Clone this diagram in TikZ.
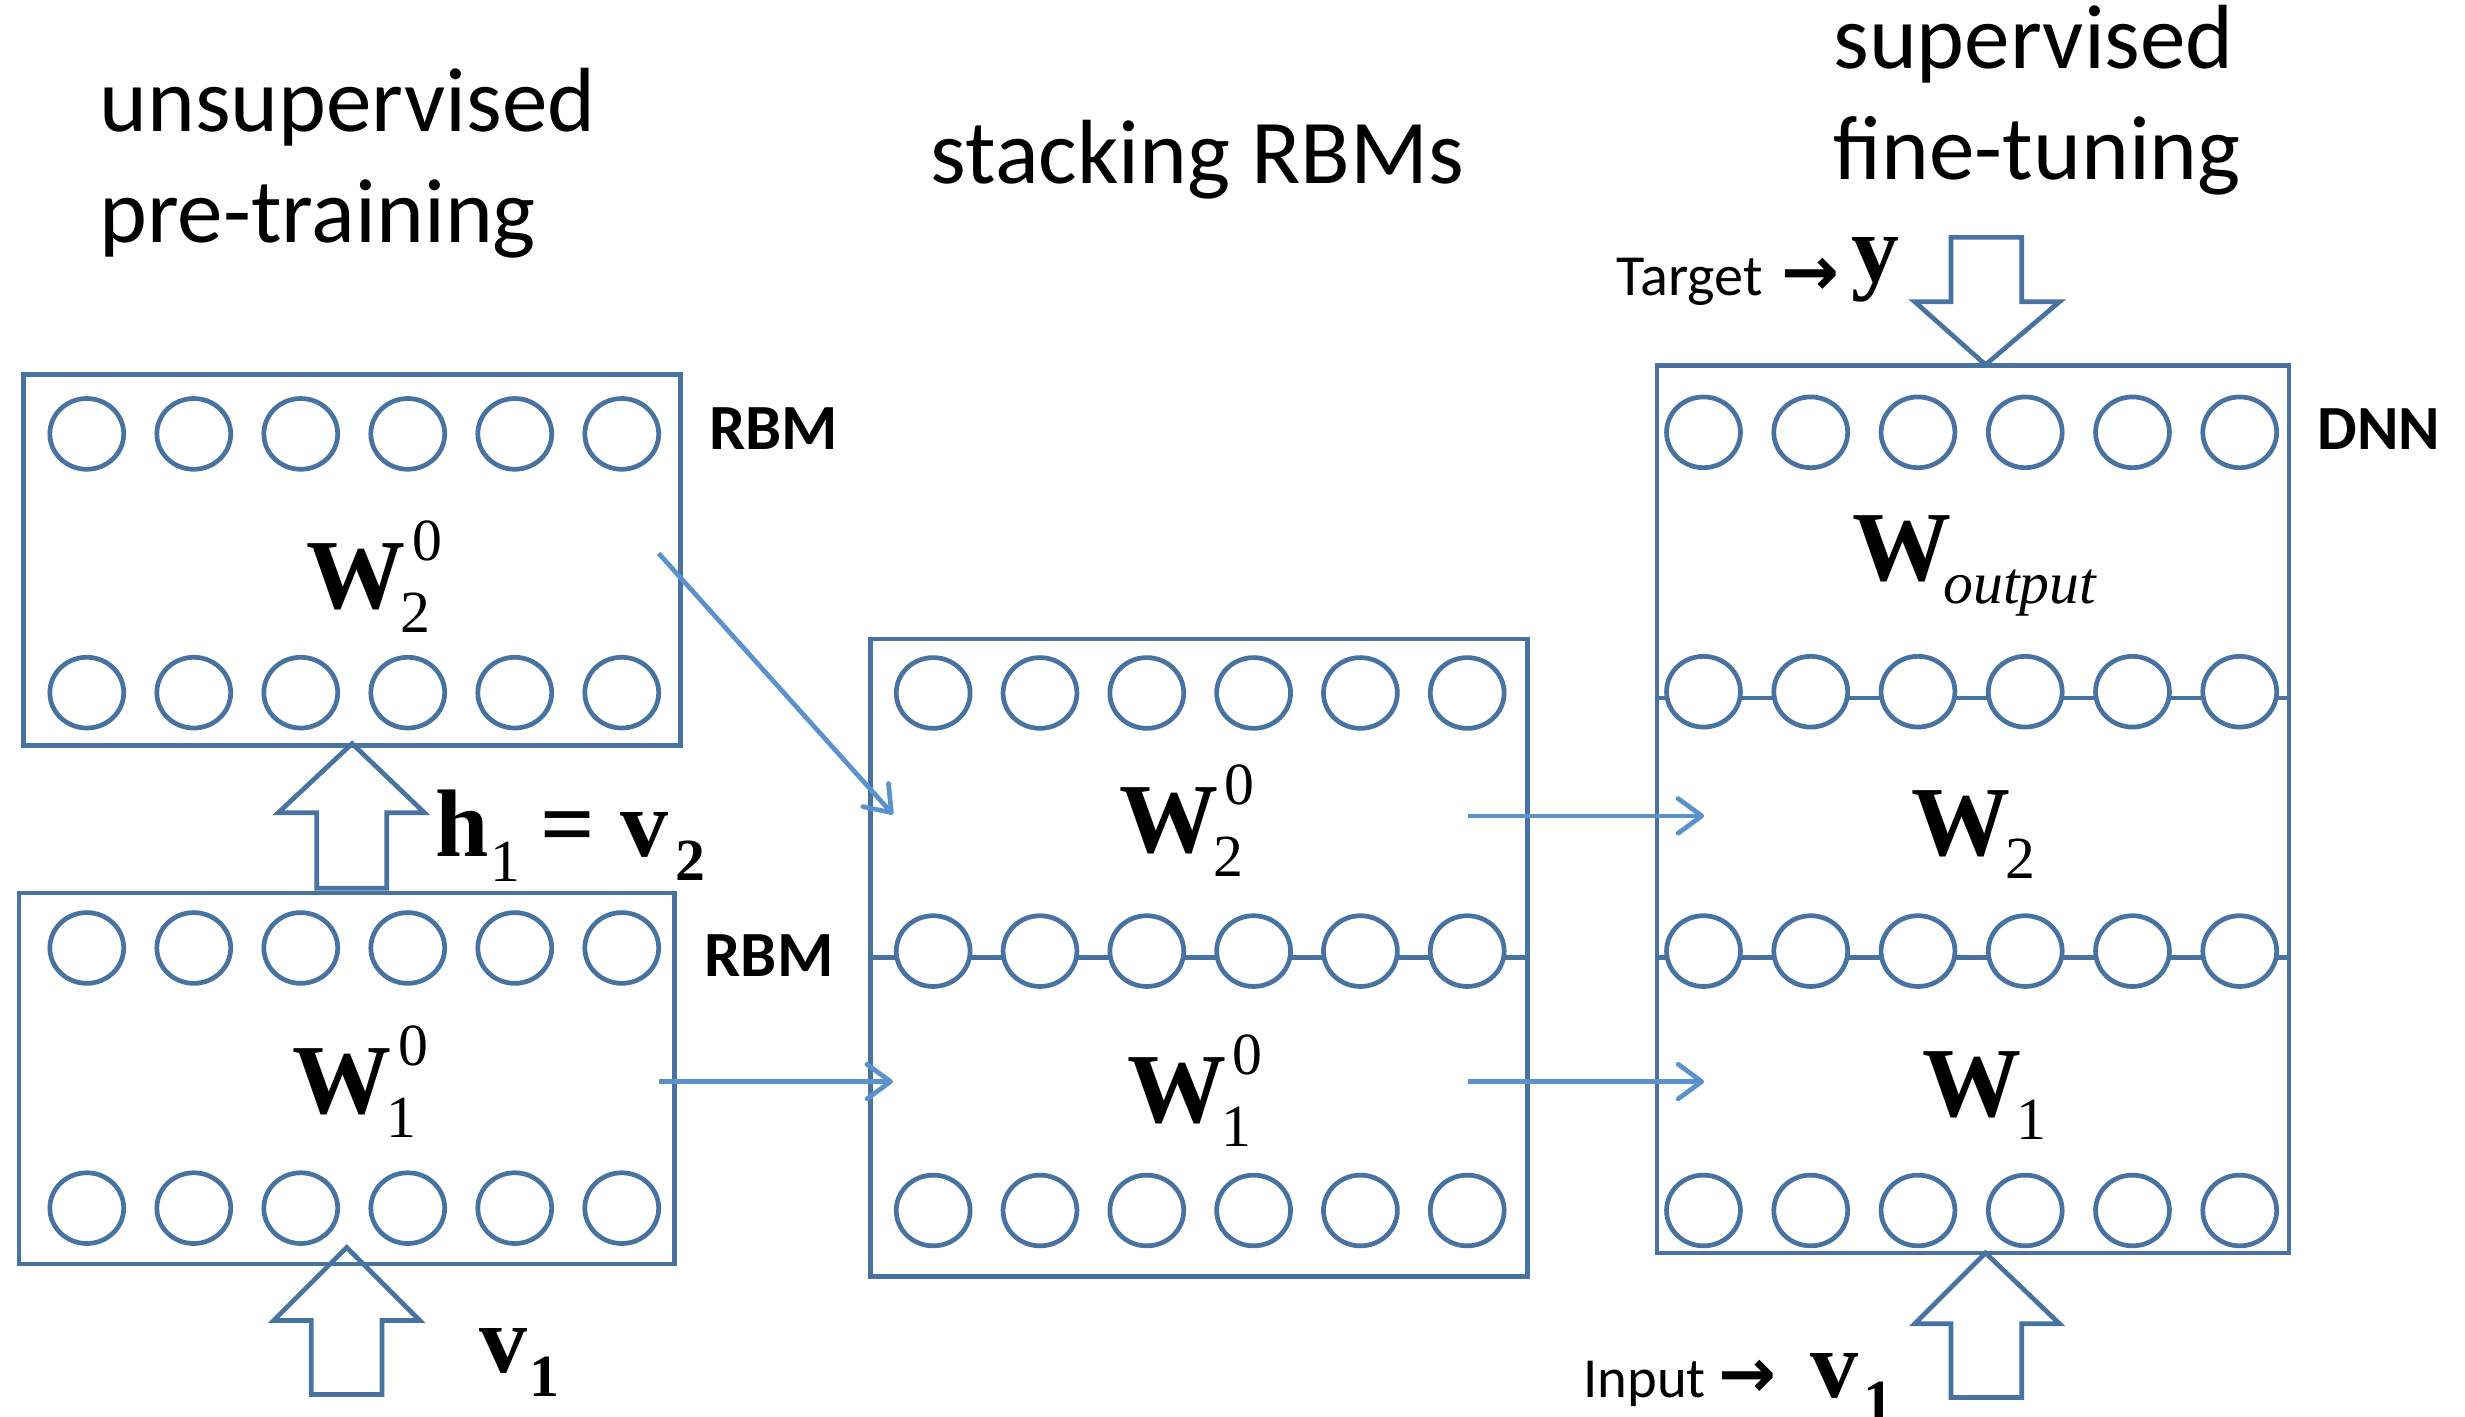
\documentclass[tikz,border=0pt]{standalone}
\usepackage{fontspec}
\setmainfont{Carlito}
\newfontfamily\serifTNR{Liberation Serif}
\newfontfamily\arrowfont{DejaVu Sans}
\usetikzlibrary{arrows.meta,shapes.geometric}
\definecolor{boxblue}{RGB}{72,115,160}
\definecolor{arrblue}{RGB}{92,146,204}
\newcommand{\WBig}{\serifTNR\bfseries\fontsize{63pt}{63pt}\selectfont}
\newcommand{\BigB}{\serifTNR\bfseries\fontsize{61pt}{61pt}\selectfont}
\newcommand{\SubR}{\serifTNR\mdseries\fontsize{38pt}{38pt}\selectfont}
\newcommand{\SubB}{\serifTNR\bfseries\fontsize{38pt}{38pt}\selectfont}
\newcommand{\Wsupsub}[2]{{\WBig W}\rlap{\kern4pt\raisebox{30.5pt}{\SubR #1}}\kern-3.5pt\raisebox{-15.5pt}{\SubR #2}}
\newcommand{\Wsubonly}[1]{{\WBig W}\kern-3.5pt\raisebox{-15pt}{\SubR #1}}
\begin{document}
\begin{tikzpicture}[x=1pt,y=-1pt,
  neuron/.style={ellipse, draw=boxblue, line width=3pt, fill=white, minimum width=47pt, minimum height=45pt, inner sep=0pt},
  layerbox/.style={rectangle, draw=boxblue, line width=3pt, inner sep=0pt},
  rowline/.style={draw=boxblue, line width=3pt},
  blockarrow/.style={draw=boxblue, line width=3pt, line join=miter},
  conn/.style={draw=arrblue, line width=3pt, -{Straight Barb[length=15pt,width=22pt,round]}},
  title/.style={font=\fontsize{58pt}{70.5pt}\selectfont, inner sep=0pt, align=left, anchor=base west},
  tag/.style={font=\bfseries\fontsize{41pt}{41pt}\selectfont, inner sep=0pt, anchor=base west},
  wlabel/.style={inner sep=0pt, anchor=base west}]
\useasboundingbox (0,0) rectangle (1568,901);

% boxes
\node[layerbox, minimum width=417.7pt, minimum height=236pt] (boxA) at (223.8,356) {};
\node[layerbox, minimum width=417pt, minimum height=236pt] (boxB) at (220.5,686) {};
\node[layerbox, minimum width=418pt, minimum height=405.6pt] (boxC) at (762.5,609.2) {};
\node[layerbox, minimum width=402pt, minimum height=564.4pt] (boxD) at (1255,514.8) {};

% row lines
\draw[rowline] (boxC.west |- 0,609) -- (boxC.east |- 0,609);
\draw[rowline] (boxD.west |- 0,444) -- (boxD.east |- 0,444);
\draw[rowline] (boxD.west |- 0,609) -- (boxD.east |- 0,609);

% neurons
\foreach \i in {0,...,5} {
  \node[neuron] (A1-\i) at ({55.2+68.06*\i},276) {};
  \node[neuron] (A2-\i) at ({55.2+68.06*\i},440.6) {};
  \node[neuron] (B1-\i) at ({55.2+68.06*\i},603) {};
  \node[neuron] (B2-\i) at ({55.2+68.06*\i},768.5) {};
  \node[neuron] (C1-\i) at ({593.6+67.94*\i},440.8) {};
  \node[neuron] (C2-\i) at ({593.6+67.94*\i},605) {};
  \node[neuron] (C3-\i) at ({593.6+67.94*\i},770) {};
  \node[neuron] (D1-\i) at ({1083.6+68.22*\i},275) {};
  \node[neuron] (D2-\i) at ({1083.6+68.22*\i},440) {};
  \node[neuron] (D3-\i) at ({1083.6+68.22*\i},605) {};
  \node[neuron] (D4-\i) at ({1083.6+68.22*\i},770) {};
}

% titles (base anchor = last line)
\node[title] (t1) at (63,154) {unsupervised\\pre-training};
\node[title] (t2) at (592,117) {stacking RBMs};
\node[title] (t3) at (1166,114) {supervised\\fine-tuning};

\node[tag] (rbmA) at (451,286) {RBM};
\node[tag] (rbmB) at (448,621) {RBM};
\node[tag, font=\bfseries\fontsize{40pt}{40pt}\selectfont] (dnn) at (1474,286) {DNN};

% weight labels
\node[wlabel] (wA) at (195,387) {\Wsupsub{0}{2}};
\node[wlabel] (wB) at (186,708) {\Wsupsub{0}{1}};
\node[wlabel] (wC2) at (712,542) {\Wsupsub{0}{2}};
\node[wlabel] (wC1) at (717,714) {\Wsupsub{0}{1}};
\node[wlabel] (wDo) at (1178,369) {{\WBig W}\kern-5pt\raisebox{-15pt}{\SubR\itshape output}};
\node[wlabel] (wD2) at (1216,544) {\Wsubonly{2}};
\node[wlabel] (wD1) at (1223,710) {\Wsubonly{1}};

% other labels
\node[wlabel] (hv) at (277,545) {{\BigB h}\kern1pt\raisebox{-16pt}{\SubR 1}\kern13pt{\BigB =}\kern15.5pt{\BigB v}\kern4.5pt\raisebox{-15pt}{\SubB 2}};
\node[wlabel] (vin) at (305,873) {{\BigB v}\kern1pt\raisebox{-15pt}{\SubB 1}};
\node[wlabel, font=\fontsize{37pt}{37pt}\selectfont] (target) at (1028,188) {Target\kern12pt{\arrowfont\bfseries\fontsize{44pt}{44pt}\selectfont →}\kern8pt\raisebox{9pt}{\BigB y}};
\node[wlabel, font=\fontsize{36pt}{36pt}\selectfont] (input) at (1007,889) {Input\kern8pt{\arrowfont\bfseries\fontsize{44pt}{44pt}\selectfont →}\kern22pt{\BigB v}\kern3pt\raisebox{-15pt}{\SubB 1}};

% block arrows
\draw[blockarrow] (220.5,793.5) -- (267,840) -- (243,840) -- (243,887) -- (198,887) -- (198,840) -- (174,840) -- cycle;
\draw[blockarrow] (224,473) -- (270,517) -- (246,517) -- (246,565) -- (201.5,565) -- (201.5,517) -- (177,517) -- cycle;
\draw[blockarrow] (1263,232) -- (1310,192) -- (1286,192) -- (1286,151) -- (1241,151) -- (1241,192) -- (1218,192) -- cycle;
\draw[blockarrow] (1263,797) -- (1310,842) -- (1286,842) -- (1286,889) -- (1241,889) -- (1241,842) -- (1218,842) -- cycle;

% connectors
\coordinate (cA) at (419,352);
\coordinate (cCtop) at (568,518);
\coordinate (cB) at (419,688);
\coordinate (cCbot) at (568,688);
\coordinate (oC2) at (934,519);
\coordinate (iD2) at (1084,519);
\coordinate (oC1) at (934,688);
\coordinate (iD1) at (1084,688);
\draw[conn] (cA) -- (cCtop);
\draw[conn] (cB) -- (cCbot);
\draw[conn] (oC2) -- (iD2);
\draw[conn] (oC1) -- (iD1);
\end{tikzpicture}
\end{document}
